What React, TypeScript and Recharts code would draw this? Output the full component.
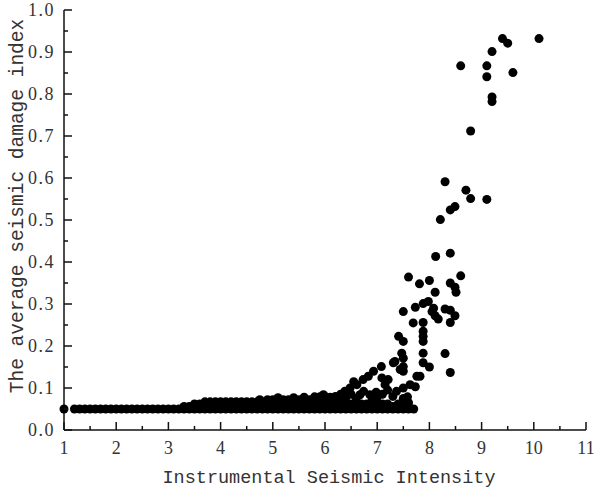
import React from 'react';
import { ScatterChart, Scatter, XAxis, YAxis, Label } from 'recharts';

// tick positions (majors are labelled, halves are minor ticks)
const xTicks = [1, 1.5, 2, 2.5, 3, 3.5, 4, 4.5, 5, 5.5, 6, 6.5, 7, 7.5, 8, 8.5, 9, 9.5, 10, 10.5, 11];
const yTicks = [0, 0.05, 0.1, 0.15, 0.2, 0.25, 0.3, 0.35, 0.4, 0.45, 0.5, 0.55, 0.6, 0.65, 0.7, 0.75, 0.8, 0.85, 0.9, 0.95, 1];

// the flat band of low damage values, one row of intensities per damage level
const row050 = [1.0, 1.2, 1.3, 1.4, 1.5, 1.6, 1.7, 1.8, 1.9, 2.0, 2.1, 2.2, 2.3, 2.4, 2.5, 2.6, 2.7, 2.8, 2.9, 3.0, 3.1, 3.2, 3.3, 3.4, 3.5, 3.6, 3.7, 3.8, 3.9, 4.0, 4.1, 4.2, 4.3, 4.4, 4.5, 4.6, 4.7, 4.8, 4.9, 5.0, 5.1, 5.2, 5.3, 5.4, 5.5, 5.6, 5.7, 5.8, 5.9, 6.0, 6.1, 6.2, 6.3, 6.4, 6.5, 6.6, 6.7, 6.8, 6.9, 7.0, 7.1, 7.2, 7.3, 7.4, 7.5, 7.6, 7.7];
const row056 = [3.3, 3.4, 3.5, 3.6, 3.7, 3.8, 3.9, 4.0, 4.1, 4.2, 4.3, 4.4, 4.5, 4.6, 4.7, 4.8, 4.9, 5.0, 5.1, 5.2, 5.3, 5.4, 5.5, 5.6, 5.7, 5.8, 5.9, 6.0, 6.1, 6.2, 6.3, 6.4, 6.5, 6.6, 6.7, 6.8, 6.9, 7.0, 7.1, 7.2, 7.3, 7.4, 7.5, 7.6];
const row062 = [3.5, 3.6, 3.7, 3.8, 3.9, 4.0, 4.1, 4.2, 4.3, 4.4, 4.5, 4.6, 4.7, 4.8, 4.9, 5.0, 5.1, 5.2, 5.3, 5.4, 5.5, 5.6, 5.7, 5.8, 5.9, 6.0, 6.1, 6.2, 6.3, 6.4, 6.5, 6.7, 6.8, 7.0, 7.1, 7.2, 7.4];
const row067 = [3.7, 3.8, 3.9, 4.0, 4.1, 4.2, 4.3, 4.4, 4.5, 4.6, 4.7, 4.8, 4.9, 5.0, 5.1, 5.2, 5.3, 5.4, 5.5, 5.6, 5.7, 5.8, 5.9, 6.0, 6.1, 6.2, 6.3, 6.4];
const row072 = [4.75, 4.9, 5.0, 5.1, 5.2, 5.3, 5.5, 5.6, 5.7, 5.8, 6.0, 6.1, 6.2];

// band bumps and the scatter where damage starts to rise
const bumps: [number, number][] = [
  [5.1, 0.077], [5.4, 0.077], [5.6, 0.078], [5.8, 0.079], [5.9, 0.079], [6.0, 0.08],
  [6.1, 0.078], [6.2, 0.08], [6.3, 0.085], [6.4, 0.078], [6.5, 0.085], [6.6, 0.075],
  [6.9, 0.07], [7.0, 0.078], [7.1, 0.085], [7.2, 0.095], [7.3, 0.08], [7.5, 0.075], [7.6, 0.065],
];
const rising: [number, number][] = [
  [5.97, 0.084], [6.38, 0.092], [6.48, 0.1], [6.55, 0.115], [6.61, 0.108], [6.67, 0.084],
  [6.73, 0.12], [6.74, 0.092], [6.83, 0.128], [6.86, 0.084], [6.93, 0.14], [6.98, 0.09],
  [7.08, 0.151], [7.09, 0.124], [7.15, 0.108], [7.21, 0.12], [7.31, 0.16], [7.34, 0.163],
  [7.37, 0.092], [7.44, 0.144], [7.5, 0.1], [7.58, 0.079], [7.63, 0.108], [7.73, 0.103],
  [7.76, 0.128], [7.82, 0.128],
];
const middle: [number, number][] = [
  [7.41, 0.223], [7.47, 0.183], [7.5, 0.211], [7.5, 0.171], [7.5, 0.151], [7.5, 0.14],
  [7.88, 0.235], [7.88, 0.223], [7.88, 0.211], [7.88, 0.183], [7.88, 0.16], [8.0, 0.15],
  [8.3, 0.182], [8.4, 0.137],
  [7.5, 0.282], [7.6, 0.364], [7.69, 0.255], [7.73, 0.292], [7.81, 0.348], [7.88, 0.301],
  [7.88, 0.256], [7.98, 0.306], [8.0, 0.356], [8.05, 0.282], [8.08, 0.29], [8.11, 0.328],
  [8.11, 0.272], [8.12, 0.413], [8.17, 0.264], [8.3, 0.288], [8.4, 0.421], [8.4, 0.35],
  [8.4, 0.285], [8.4, 0.256], [8.49, 0.34], [8.49, 0.272], [8.51, 0.328], [8.6, 0.367],
];
const upper: [number, number][] = [
  [8.21, 0.501], [8.3, 0.591], [8.4, 0.524], [8.49, 0.532], [8.6, 0.867], [8.7, 0.571],
  [8.79, 0.712], [8.79, 0.551], [9.1, 0.867], [9.1, 0.841], [9.1, 0.549], [9.2, 0.901],
  [9.2, 0.793], [9.2, 0.782], [9.4, 0.932], [9.5, 0.921], [9.6, 0.851], [10.1, 0.932],
];

const rows: [number[], number][] = [[row050, 0.05], [row056, 0.056], [row062, 0.062], [row067, 0.067], [row072, 0.072]];
const points = [
  ...rows.flatMap(([xs, y]) => xs.map((x) => ({ x, y }))),
  ...[...bumps, ...rising, ...middle, ...upper].map(([x, y]) => ({ x, y })),
];

const XTick = (props: any) => {
  const { x, y, payload } = props;
  const major = Number.isInteger(payload.value);
  return (
    <g>
      <line x1={x} y1={y} x2={x} y2={y - (major ? 8 : 4)} stroke="#111" strokeWidth={1.5} />
      {major && (
        <text x={x} y={y + 24} textAnchor="middle" fontFamily="Liberation Serif" fontSize={18} fill="#333">
          {payload.value}
        </text>
      )}
    </g>
  );
};

const YTick = (props: any) => {
  const { x, y, payload } = props;
  const major = Math.round(payload.value * 100) % 10 === 0;
  return (
    <g>
      <line x1={x} y1={y} x2={x + (major ? 8 : 4)} y2={y} stroke="#111" strokeWidth={1.5} />
      {major && (
        <text x={x - 9} y={y + 6} textAnchor="end" fontFamily="Liberation Serif" fontSize={18} letterSpacing={1.5} fill="#333">
          {payload.value.toFixed(1)}
        </text>
      )}
    </g>
  );
};

const Dot = (props: any) => <circle cx={props.cx} cy={props.cy} r={4.5} fill="#000" />;

const App = () => {
  return (
    <div style={{ width: 595, height: 489, background: '#fff' }}>
      <style>{'body { margin: 0; }'}</style>
      <ScatterChart width={595} height={489} margin={{ top: 10, right: 9, bottom: 9, left: 14 }}>
        <XAxis
          type="number"
          dataKey="x"
          domain={[1, 11]}
          ticks={xTicks}
          interval={0}
          tickLine={false}
          tickSize={0}
          tickMargin={0}
          tick={<XTick />}
          height={50}
          axisLine={{ stroke: '#111', strokeWidth: 1.5 }}
        >
          <Label
            content={() => (
              <text x={329} y={483} textAnchor="middle" fontFamily="Liberation Mono" fontSize={18.5} fill="#333">
                Instrumental Seismic Intensity
              </text>
            )}
          />
        </XAxis>
        <YAxis
          type="number"
          dataKey="y"
          domain={[0, 1]}
          ticks={yTicks}
          interval={0}
          tickLine={false}
          tickSize={0}
          tickMargin={0}
          tick={<YTick />}
          width={50}
          axisLine={{ stroke: '#111', strokeWidth: 1.5 }}
        >
          <Label
            content={() => (
              <text x={23} y={206} transform="rotate(-90 23 206)" textAnchor="middle" fontFamily="Liberation Mono" fontSize={19.5} fill="#333">
                The average seismic damage index
              </text>
            )}
          />
        </YAxis>
        <Scatter data={points} shape={<Dot />} isAnimationActive={false} />
      </ScatterChart>
    </div>
  );
};

export default App;
